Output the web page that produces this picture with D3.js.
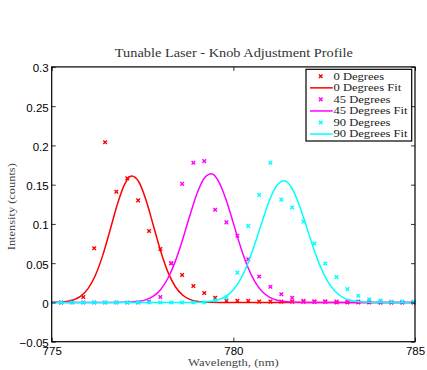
<!DOCTYPE html>
<html><head><meta charset="utf-8">
<script src="https://cdn.jsdelivr.net/npm/d3@7"></script>
<style>html,body{margin:0;padding:0;background:#fff;} svg{display:block}</style>
</head><body><svg id="chart" width="427" height="370"></svg>
<script>
// ---- data ----
const wavelength = [775.26,775.56,775.87,776.17,776.47,776.78,777.08,777.38,777.68,777.99,
  778.29,778.59,778.90,779.20,779.50,779.81,780.11,780.41,780.71,781.02,
  781.32,781.62,781.93,782.23,782.53,782.84,783.14,783.44,783.74,784.05,
  784.35,784.65,784.96];
const deg0 = [0.000,0.001,0.007,0.069,0.204,0.141,0.158,0.130,0.091,0.068,
  0.050,0.035,0.021,0.012,0.006,0.002,0.002,0.002,0.001,0.001,
  0.001,0.001,0.001,0.001,0.001,0.000,0.000,0.000,0.000,0.000,
  0.000,0.000,0.000];
const deg45 = [0.000,0.000,0.000,0.000,0.000,0.000,0.000,0.000,0.001,0.007,
  0.050,0.151,0.178,0.180,0.118,0.102,0.085,0.055,0.033,0.020,
  0.0105,0.006,0.002,0.001,0.001,0.001,0.001,0.001,0.001,0.000,
  0.000,0.000,0.000];
const deg90 = [0.000,0.000,0.000,0.000,0.000,0.000,0.000,0.000,0.000,0.000,
  0.000,0.000,0.000,0.000,0.003,0.0065,0.038,0.0975,0.137,0.178,
  0.131,0.121,0.103,0.075,0.0496,0.0322,0.017,0.0085,0.004,0.0025,
  0.0013,0.0013,0.001];
const fitWavelength = [775.0,775.2,775.4,775.6,775.8,776.0,776.2,776.4,776.6,776.8,
  777.0,777.2,777.4,777.6,777.8,778.0,778.2,778.4,778.6,778.8,
  779.0,779.2,779.4,779.6,779.8,780.0,780.2,780.4,780.6,780.8,
  781.0,781.2,781.4,781.6,781.8,782.0,782.2,782.4,782.6,782.8,
  783.0,783.2,783.4,783.6,783.8,784.0,784.2,784.4,784.6,784.8,785.0];
const fit0 = [0.0001,0.0004,0.0012,0.0033,0.0080,0.0176,0.0343,0.0593,0.0910,0.1239,
  0.1498,0.1609,0.1534,0.1299,0.0977,0.0652,0.0386,0.0203,0.0095,0.0039,
  0.0015,0.0005,0.0001,0,0,0,0,0,0,0,
  0,0,0,0,0,0,0,0,0,0,
  0,0,0,0,0,0,0,0,0,0,0];
const fit45 = [0,0,0,0,0,0,0,0,0,0,
  0.0002,0.0005,0.0014,0.0036,0.0081,0.0166,0.0308,0.0520,0.0795,0.1103,
  0.1388,0.1583,0.1638,0.1537,0.1309,0.1010,0.0707,0.0449,0.0259,0.0135,
  0.0064,0.0027,0.0011,0.0004,0.0001,0,0,0,0,0,
  0,0,0,0,0,0,0,0,0,0,0];
const fit90 = [0,0,0,0,0,0,0,0,0,0,
  0,0,0,0,0,0,0,0,0,0,
  0.0002,0.0006,0.0015,0.0036,0.0081,0.0163,0.0298,0.0497,0.0755,0.1041,
  0.1307,0.1492,0.1550,0.1464,0.1258,0.0983,0.0700,0.0453,0.0266,0.0143,
  0.0069,0.0031,0.0012,0.0005,0.0002,0,0,0,0,0,0];
const seriesNames = ["0 Degrees","45 Degrees","90 Degrees"];
const fitNames = ["0 Degrees Fit","45 Degrees Fit","90 Degrees Fit"];
const seriesColors = ["#ff0000","#ff00ff","#00ffff"];
const xTicks = [775,780,785];
const xTickLabels = ["775","780","785"];
const yTicks = [-0.05,0,0.05,0.1,0.15,0.2,0.25,0.3];
const yTickLabels = ["\u22120.05","0","0.05","0.1","0.15","0.2","0.25","0.3"];
const titleText = "Tunable Laser - Knob Adjustment Profile";
const xLabelText = "Wavelength, (nm)";
const yLabelText = "Intensity (counts)";

// ---- drawing ----
const svg = d3.select("#chart");
const L = 51.7, R = 415, T = 66.9, B = 341.7;
const x = d3.scaleLinear().domain([775,785]).range([L,R]);
const y = d3.scaleLinear().domain([-0.05,0.3]).range([B,T]);

svg.append("rect").attr("width",427).attr("height",370).attr("fill","#fff");

const pointSets = [deg0, deg45, deg90];
const fitSets = [fit0, fit45, fit90];
const line = d3.line().x(d=>x(d[0])).y(d=>y(d[1])).curve(d3.curveMonotoneX);
const markerPath = "M-1.8,-1.8L1.8,1.8M-1.8,1.8L1.8,-1.8";

const plot = svg.append("g");
pointSets.forEach((vals,si)=>{
  plot.append("g").selectAll("path").data(wavelength.map((w,i)=>[w,vals[i]])).join("path")
    .attr("d",markerPath)
    .attr("transform",d=>`translate(${x(d[0])},${y(d[1])})`)
    .attr("stroke",seriesColors[si]).attr("stroke-width",1.4).attr("fill","none");
  plot.append("path").datum(fitWavelength.map((w,i)=>[w,fitSets[si][i]]))
    .attr("d",line).attr("fill","none").attr("stroke",seriesColors[si]).attr("stroke-width",1.5);
});

// axes
const fmtX = (d,i)=>xTickLabels[i];
const fmtY = (d,i)=>yTickLabels[i];
const gB = svg.append("g").attr("transform",`translate(0,${B})`)
  .call(d3.axisBottom(x).tickValues(xTicks).tickFormat(fmtX).tickSizeInner(-4).tickSizeOuter(0).tickPadding(5));
const gT = svg.append("g").attr("transform",`translate(0,${T})`)
  .call(d3.axisTop(x).tickValues(xTicks).tickFormat("").tickSizeInner(-4).tickSizeOuter(0));
const gL = svg.append("g").attr("transform",`translate(${L},0)`)
  .call(d3.axisLeft(y).tickValues(yTicks).tickFormat(fmtY).tickSizeInner(-4).tickSizeOuter(0).tickPadding(3));
const gR = svg.append("g").attr("transform",`translate(${R},0)`)
  .call(d3.axisRight(y).tickValues(yTicks).tickFormat("").tickSizeInner(-4).tickSizeOuter(0));
[gB,gT,gL,gR].forEach(g=>{
  g.select(".domain").remove();
  g.selectAll(".tick line").attr("stroke","#000").attr("stroke-width",0.8);
  g.selectAll("text").attr("font-family","'Liberation Sans', Arial, sans-serif").attr("font-size",11.5).attr("fill","#000");
});
gL.selectAll("text").attr("dy","0.42em");
svg.append("rect").attr("x",L).attr("y",T).attr("width",R-L).attr("height",B-T)
  .attr("fill","none").attr("stroke","#000").attr("stroke-width",1.2);

// titles
const serif = "'Liberation Serif','DejaVu Serif',serif";
svg.append("text").attr("x",(L+R)/2+0.5).attr("y",56.7).attr("text-anchor","middle")
  .attr("font-family",serif).attr("font-size",12.5).attr("fill","#333")
  .attr("textLength",238).attr("lengthAdjust","spacingAndGlyphs").text(titleText);
svg.append("text").attr("x",(L+R)/2).attr("y",365.5).attr("text-anchor","middle")
  .attr("font-family",serif).attr("font-size",10.5).attr("fill","#444")
  .attr("textLength",90.6).attr("lengthAdjust","spacingAndGlyphs").text(xLabelText);
svg.append("text").attr("transform","translate(14.5,206.7) rotate(-90)").attr("text-anchor","middle")
  .attr("font-family",serif).attr("font-size",10.5).attr("fill","#444")
  .attr("textLength",87).attr("lengthAdjust","spacingAndGlyphs").text(yLabelText);

// legend
const lg = svg.append("g");
lg.append("rect").attr("x",306).attr("y",69.3).attr("width",105.7).attr("height",71.7)
  .attr("fill","#fff").attr("stroke","#000").attr("stroke-width",1.2);
const rows = [];
seriesNames.forEach((n,i)=>{ rows.push({label:n,color:seriesColors[i],kind:"m"}); rows.push({label:fitNames[i],color:seriesColors[i],kind:"l"}); });
// widths scaled so that "45 Degrees Fit" spans 74px like the reference
const legendFont = 10;
const probe = svg.append("text").attr("font-family",serif).attr("font-size",legendFont).text(fitNames[1]);
const scaleW = 74/probe.node().getComputedTextLength(); probe.remove();
rows.forEach((r,i)=>{
  const cy = 76.3 + i*11.55;
  if(r.kind==="m"){
    lg.append("path").attr("d",markerPath).attr("transform",`translate(320.7,${cy})`)
      .attr("stroke",r.color).attr("stroke-width",1.4).attr("fill","none");
  } else {
    lg.append("line").attr("x1",310).attr("x2",332.7).attr("y1",cy).attr("y2",cy)
      .attr("stroke",r.color).attr("stroke-width",1.5);
  }
  const t = lg.append("text").attr("x",333.5).attr("y",cy+3.4).attr("font-family",serif).attr("font-size",legendFont)
    .attr("fill","#222").text(r.label);
  const w = t.node().getComputedTextLength();
  t.attr("textLength",w*scaleW).attr("lengthAdjust","spacingAndGlyphs");
});
</script></body></html>
